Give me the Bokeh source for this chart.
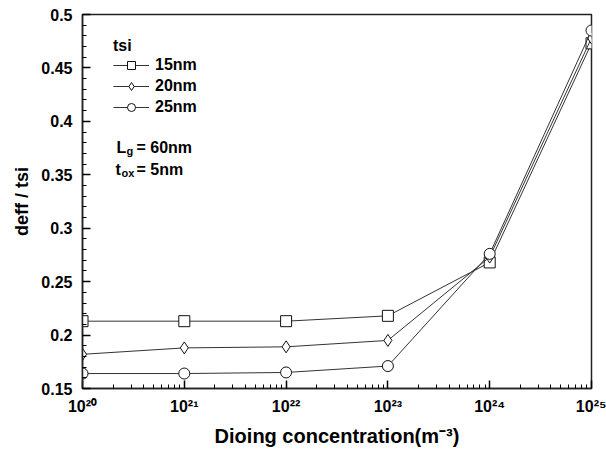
from bokeh.plotting import figure
from bokeh.models import FixedTicker, Legend, LegendItem, Label, Range1d
from bokeh.embed import file_html
from bokeh.resources import INLINE

# ---- data ----
conc = [1e20, 1e21, 1e22, 1e23, 1e24, 1e25]
t15 = [0.213, 0.213, 0.213, 0.218, 0.268, 0.473]
t20 = [0.182, 0.188, 0.189, 0.195, 0.273, 0.478]
t25 = [0.164, 0.164, 0.165, 0.171, 0.276, 0.485]
series_names = ["15nm", "20nm", "25nm"]
markers = ["square", "diamond", "circle"]

x_ticks = [1e20, 1e21, 1e22, 1e23, 1e24, 1e25]
x_labels = ["10²⁰", "10²¹", "10²²", "10²³", "10²⁴", "10²⁵"]
y_ticks = [0.15, 0.2, 0.25, 0.3, 0.35, 0.4, 0.45, 0.5]
y_labels = ["0.15", "0.2", "0.25", "0.3", "0.35", "0.4", "0.45", "0.5"]

FONT = "Liberation Sans"

p = figure(width=606, height=451, x_axis_type="log",
           x_range=Range1d(1e20, 1e25), y_range=Range1d(0.15, 0.5),
           output_backend="svg", toolbar_location=None,
           min_border_left=82, min_border_right=15, min_border_top=14, min_border_bottom=63)
p.xgrid.visible = False
p.ygrid.visible = False
p.background_fill_color = "white"
p.outline_line_color = "#222222"
p.outline_line_width = 1.5

# axes
x_minor = [k * d for d in x_ticks[:-1] for k in range(2, 10)]
p.xaxis.ticker = FixedTicker(ticks=x_ticks, minor_ticks=x_minor)
p.xaxis.major_label_overrides = dict(zip(x_ticks, x_labels))
y_minor = [round(0.15 + 0.01 * i, 2) for i in range(36)]
p.yaxis.ticker = FixedTicker(ticks=y_ticks, minor_ticks=y_minor)
p.yaxis.major_label_overrides = dict(zip(y_ticks, y_labels))

for ax in (p.xaxis[0], p.yaxis[0]):
    ax.axis_line_color = "#222222"
    ax.axis_line_width = 1.5
    ax.major_tick_in = 8
    ax.major_tick_out = 0
    ax.minor_tick_in = 4
    ax.minor_tick_out = 0
    ax.major_tick_line_color = "black"
    ax.minor_tick_line_color = "black"
    ax.major_tick_line_width = 1.5
    ax.minor_tick_line_width = 1
    ax.major_label_text_font = FONT
    ax.major_label_text_font_style = "bold"
    ax.major_label_text_font_size = "16px"
    ax.major_label_text_color = "black"
    ax.axis_label_text_font = FONT
    ax.axis_label_text_font_style = "bold"
    ax.axis_label_text_color = "black"

p.xaxis.axis_label = "Dioing concentration(m⁻³)"
p.xaxis.axis_label_text_font_size = "20px"
p.xaxis.major_label_standoff = 9
p.xaxis.axis_label_standoff = 7
p.yaxis.axis_label = "deff / tsi"
p.yaxis.axis_label_text_font_size = "18px"
p.yaxis.major_label_standoff = 10
p.yaxis.axis_label_standoff = 6

items = []
for name, mk, ys in zip(series_names, markers, [t15, t20, t25]):
    l = p.line(conc, ys, line_color="#333333", line_width=1)
    s = p.scatter(conc, ys, marker=mk, size=12 if mk == "diamond" else 11,
                  fill_color="white", line_color="#111111", line_width=1)
    items.append(LegendItem(label=name, renderers=[l, s]))

legend = Legend(items=items, location=(31, 271), title="tsi",
                title_text_font=FONT, title_text_font_style="bold", title_text_font_size="16px",
                title_text_color="black",
                label_text_font=FONT, label_text_font_style="bold", label_text_font_size="16px",
                label_text_color="black",
                glyph_width=36, glyph_height=20, label_height=20, spacing=1,
                label_standoff=6, padding=0, margin=0, title_standoff=0,
                border_line_color=None, background_fill_alpha=0)
p.add_layout(legend)

def lab(text, x, y, size):
    p.add_layout(Label(x=x, y=y, x_units="screen", y_units="screen", text=text,
                       text_font=FONT, text_font_style="bold", text_font_size=size,
                       text_baseline="alphabetic", text_color="black"))

lab("L", 34, 241, "16px")
lab("g", 44, 238, "11px")
lab("= 60nm", 54, 241, "16px")
lab("t", 33, 219, "16px")
lab("ox", 39, 216, "11px")
lab("= 5nm", 54, 219, "16px")

open("out.html", "w").write(file_html(p, INLINE))
